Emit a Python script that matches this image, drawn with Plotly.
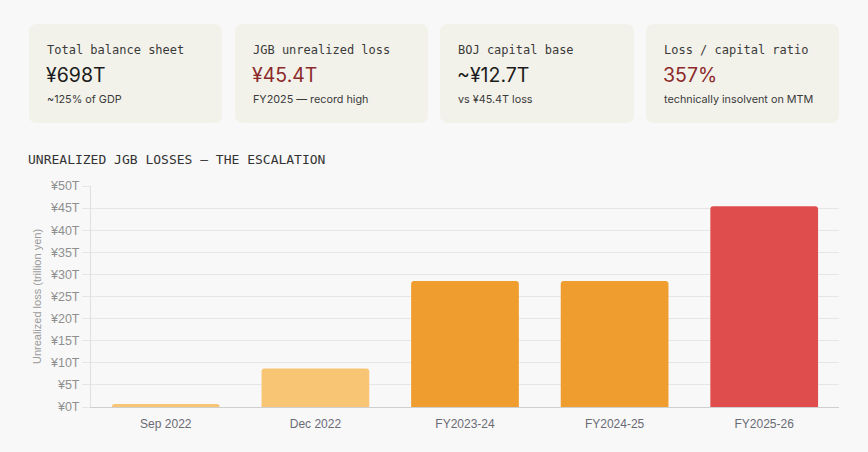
import plotly.graph_objects as go

# ---- data ----
categories = ["Sep 2022", "Dec 2022", "FY2023-24", "FY2024-25", "FY2025-26"]
losses = [0.7, 8.7, 28.5, 28.5, 45.4]
bar_colors = ["#F8C574", "#F8C574", "#EF9D2F", "#EF9D2F", "#DF4D4D"]

card_titles = ["Total balance sheet", "JGB unrealized loss", "BOJ capital base", "Loss / capital ratio"]
card_values = ["¥698T", "¥45.4T", "~¥12.7T", "357%"]
card_subs = ["~125% of GDP", "FY2025 — record high", "vs ¥45.4T loss", "technically insolvent on MTM"]
card_value_colors = ["#1c1c1c", "#8B2A2A", "#1c1c1c", "#8B2A2A"]

chart_title = "UNREALIZED JGB LOSSES — THE ESCALATION"
y_title = "Unrealized loss (trillion yen)"

# ---- layout geometry ----
W, H = 868, 452
L, R, T, B = 91, 29, 186, 45
PW, PH = W - L - R, H - T - B


def px(x):
    return (x - L) / PW


def py(y):
    return (H - B - y) / PH


def rounded_rect(x0, y0, x1, y1, r):
    pts = [
        ("M", x0 + r, y0), ("L", x1 - r, y0), ("Q", x1, y0, x1, y0 + r),
        ("L", x1, y1 - r), ("Q", x1, y1, x1 - r, y1), ("L", x0 + r, y1),
        ("Q", x0, y1, x0, y1 - r), ("L", x0, y0 + r), ("Q", x0, y0, x0 + r, y0),
    ]
    s = ""
    for p in pts:
        cmd = p[0]
        coords = p[1:]
        parts = []
        for i in range(0, len(coords), 2):
            parts.append(f"{px(coords[i]):.5f},{py(coords[i+1]):.5f}")
        s += cmd + " " + " ".join(parts) + " "
    return s + "Z"


fig = go.Figure()
fig.add_trace(go.Bar(
    x=categories, y=losses, marker=dict(color=bar_colors, line=dict(width=0)),
    hoverinfo="skip",
))

shapes = []
annotations = []
card_x = [(29, 222), (235, 428), (440, 634), (646, 839)]
for i, (x0, x1) in enumerate(card_x):
    shapes.append(dict(
        type="path", xref="paper", yref="paper", path=rounded_rect(x0, 24, x1, 123, 8),
        fillcolor="#F3F2EA", line=dict(width=0), layer="below",
    ))
    annotations.append(dict(
        x=px(x0 + 16), y=py(50), xref="paper", yref="paper", xanchor="left", yanchor="middle",
        text=card_titles[i], showarrow=False,
        font=dict(family="DejaVu Sans Mono", size=12, color="#3a3a3a"),
    ))
    annotations.append(dict(
        x=px(x0 + 15), y=py(75), xref="paper", yref="paper", xanchor="left", yanchor="middle",
        text=card_values[i], showarrow=False,
        font=dict(family="Inter", size=19.5, color=card_value_colors[i]),
    ))
    annotations.append(dict(
        x=px(x0 + 16), y=py(99), xref="paper", yref="paper", xanchor="left", yanchor="middle",
        text=card_subs[i], showarrow=False,
        font=dict(family="Inter", size=10.8, color="#3a3a3a"),
    ))

annotations.append(dict(
    x=px(26), y=py(159), xref="paper", yref="paper", xanchor="left", yanchor="middle",
    text=chart_title, showarrow=False,
    font=dict(family="DejaVu Sans Mono", size=13, color="#333333"),
))

fig.update_layout(
    width=W, height=H,
    margin=dict(l=L, r=R, t=T, b=B),
    paper_bgcolor="#F8F8F8", plot_bgcolor="#F8F8F8",
    bargap=0.28, barcornerradius=3,
    showlegend=False,
    shapes=shapes, annotations=annotations,
    font=dict(family="Liberation Sans, Arial, sans-serif"),
)
fig.update_xaxes(
    showgrid=False, showline=True, linecolor="#cfcfcf", linewidth=1,
    ticks="", tickfont=dict(size=12, color="#6b6b76"), ticklabelstandoff=6,
    fixedrange=True,
)
fig.update_yaxes(
    range=[0, 50], dtick=5, tickprefix="¥", ticksuffix="T",
    showgrid=True, gridcolor="#e6e6e6", gridwidth=1,
    showline=True, linecolor="#e0e0e0", linewidth=1,
    ticks="outside", ticklen=8, tickcolor="#e6e6e6",
    tickfont=dict(size=12.5, color="#8f8f8f"),
    zeroline=False,
    title=dict(text=y_title, font=dict(size=11, color="#9a9a9a"), standoff=6),
    fixedrange=True,
)

fig.write_html("out.html")
